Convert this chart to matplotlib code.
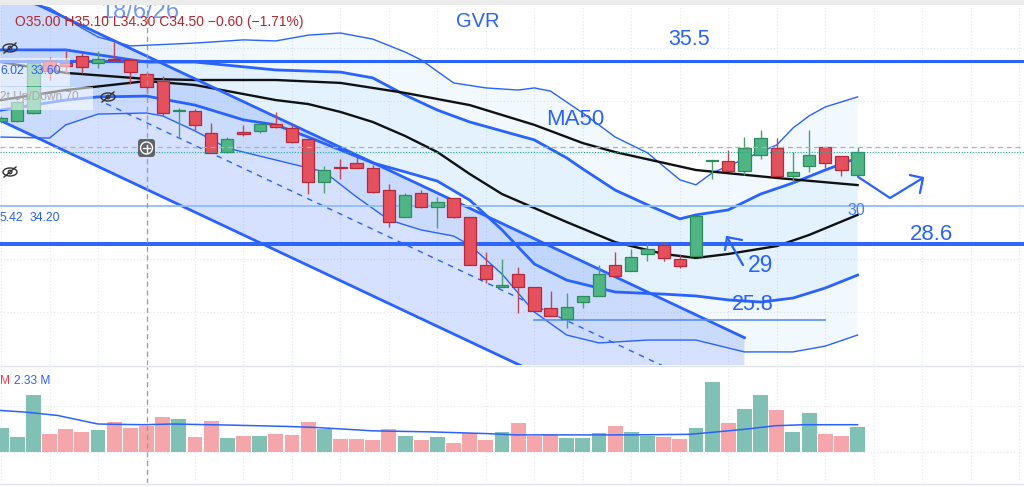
import numpy as np
import matplotlib
matplotlib.use('Agg')
import matplotlib.pyplot as plt
from matplotlib.patches import Rectangle, Ellipse, FancyBboxPatch, Circle

plt.rcParams['font.family'] = ['Liberation Sans', 'DejaVu Sans']

# daily candles, bar index 0..53 (prices)
opens = [33.23, 33.23, 33.53, 35.50, 35.42, 35.69, 35.42, 35.58, 35.54, 35.00,
         34.74, 33.61, 33.61, 32.77, 32.05, 32.81, 32.85, 33.11, 32.96, 32.55,
         30.92, 31.48, 31.64, 31.45, 30.61, 29.59, 30.50, 29.97, 30.31, 29.59,
         27.77, 26.94, 27.43, 26.94, 26.14, 25.73, 26.37, 26.60, 27.77, 27.55,
         28.19, 28.53, 28.00, 28.11, 31.71, 31.71, 31.33, 31.94, 32.20, 31.14,
         31.52, 32.24, 31.90, 31.18]
highs = [33.42, 34.02, 35.46, 35.65, 35.88, 35.80, 35.88, 36.22, 35.61, 35.10,
         34.93, 33.72, 33.68, 33.15, 32.62, 33.08, 33.15, 33.57, 33.11, 32.55,
         31.52, 31.79, 31.90, 31.56, 30.84, 30.50, 30.61, 30.35, 30.31, 29.59,
         28.27, 28.00, 27.70, 26.94, 26.79, 26.71, 26.60, 27.77, 28.27, 28.38,
         28.61, 28.64, 28.19, 29.63, 31.75, 32.13, 32.62, 32.89, 32.58, 32.05,
         32.89, 32.24, 31.90, 32.24]
lows = [33.15, 33.19, 33.49, 34.78, 35.05, 35.05, 35.23, 35.50, 34.63, 34.30,
        33.45, 32.58, 32.89, 32.02, 32.02, 32.66, 32.77, 32.96, 32.39, 30.46,
        30.50, 31.03, 31.45, 30.50, 29.21, 29.59, 29.93, 29.17, 29.55, 27.77,
        27.09, 26.94, 25.95, 26.03, 25.84, 25.39, 26.14, 26.60, 27.36, 27.55,
        27.92, 27.92, 27.66, 28.11, 31.03, 31.33, 31.18, 31.79, 31.14, 30.88,
        31.30, 31.45, 31.14, 31.18]
closes = [33.34, 33.95, 35.42, 35.12, 35.31, 35.27, 35.58, 35.52, 35.08, 34.50,
          33.53, 33.64, 33.08, 32.02, 32.55, 32.73, 33.11, 33.00, 32.43, 30.92,
          31.37, 31.43, 31.45, 30.54, 29.40, 30.42, 29.97, 30.16, 29.59, 27.77,
          27.24, 27.02, 26.94, 26.03, 25.84, 26.18, 26.60, 27.43, 27.36, 28.08,
          28.38, 28.04, 27.73, 29.63, 31.75, 31.33, 32.20, 32.58, 31.14, 31.30,
          31.94, 31.64, 31.37, 32.05]
# volume in millions
volumes = [2.07, 1.33, 4.96, 1.53, 2.01, 1.74, 1.92, 2.60, 2.07, 2.21,
           3.04, 2.89, 1.27, 2.71, 1.21, 1.39, 1.39, 1.59, 1.50, 2.57,
           1.95, 1.15, 1.15, 1.00, 2.01, 1.39, 1.00, 1.27, 0.80, 1.62,
           1.00, 1.74, 2.54, 1.36, 1.53, 1.18, 1.24, 1.65, 2.24, 1.77,
           1.42, 1.33, 1.15, 2.09, 6.05, 2.54, 3.69, 4.96, 3.63, 1.77,
           3.36, 1.53, 1.39, 2.18]
vol_ma_x = [-0.1, 1.5, 3.5, 4.5, 6.0, 8.8, 10.6, 14.1, 17.7, 19.5, 21.2, 23.0,
            26.6, 30.1, 31.9, 35.5, 39.0, 42.6, 44.3, 46.1, 47.9, 49.7, 53.0]
vol_ma_y = [3.60, 3.45, 3.16, 2.86, 2.42, 2.36, 2.42, 2.33, 2.21, 2.12, 1.98, 1.83,
            1.74, 1.59, 1.48, 1.48, 1.48, 1.53, 1.74, 1.98, 2.27, 2.36, 2.36]

# indicator lines sampled from the chart (bar index, price)
ma50_x = [0, 4, 9, 12, 17, 21, 25, 29, 33, 36, 38, 43, 48, 53]
ma50_y = [35.46, 35.05, 34.82, 34.78, 34.78, 34.67, 34.29, 33.83, 33.08, 32.39,
          32.05, 31.37, 31.07, 30.80]
basis_x = [0, 4, 9, 12, 17, 19, 21, 23, 25, 27, 29, 31, 33, 35, 38, 41, 43, 45,
           48, 50, 53]
basis_y = [34.02, 34.40, 34.74, 34.59, 34.02, 33.87, 33.57, 33.19, 32.66, 32.05,
           31.22, 30.46, 29.93, 29.40, 28.64, 28.19, 28.04, 28.19, 28.49, 28.91, 29.67]
bb_up_x = [0, 4, 9, 12, 17, 21, 23, 25, 27, 29, 31, 33, 35, 36, 38, 40, 42, 43,
           45, 47, 49, 51, 53]
bb_up_y = [35.92, 35.92, 35.46, 35.46, 35.16, 35.08, 34.86, 34.21, 33.64, 33.19,
           32.85, 32.51, 31.83, 31.41, 30.61, 30.05, 29.52, 29.67, 29.86, 30.46,
           30.88, 31.37, 31.83]
bb_lo_x = [0, 4, 6, 9, 12, 15, 17, 19, 21, 23, 25, 27, 29, 31, 33, 35, 38, 41,
           43, 45, 47, 49, 51, 53]
bb_lo_y = [33.64, 34.02, 34.14, 34.17, 33.83, 33.27, 33.08, 32.62, 32.13, 31.64,
           31.30, 30.95, 30.23, 29.10, 27.81, 27.20, 26.75, 26.67, 26.60, 26.45,
           26.37, 26.52, 26.90, 27.39]
outer_up_x = [0, 3, 5, 6, 8, 12, 15, 17, 19, 21, 23, 25, 26, 28, 30, 32, 33, 34,
              36, 38, 40, 42, 43, 44, 46, 48, 49, 50, 51, 53]
outer_up_y = [37.92, 37.51, 36.75, 36.41, 36.07, 36.18, 36.30, 36.26, 36.48, 36.56,
              36.33, 35.84, 35.54, 34.67, 34.48, 34.40, 34.48, 34.36, 33.53, 32.62,
              32.02, 31.00, 30.81, 31.26, 31.79, 32.32, 32.96, 33.42, 33.76, 34.14]
outer_lo_x = [0, 3, 4, 6, 9, 10, 12, 14, 17, 20, 22, 24, 26, 28, 29, 31, 33, 35,
              37, 40, 43, 46, 49, 51, 53]
outer_lo_y = [32.62, 32.58, 33.08, 33.49, 33.53, 33.42, 32.85, 32.20, 31.75, 31.30,
              30.35, 29.48, 29.10, 28.87, 28.53, 27.43, 25.99, 25.12, 24.82, 24.93,
              24.93, 24.48, 24.48, 24.70, 25.12]

# drawn parallel channel: two anchors on the upper edge, width in price
chan_x = [6.5, 46.0]
chan_top = [36.41, 25.02]
chan_width = 5.05

# horizontal levels
res_level = 35.5
sup_level = 28.6
mid_level = 30.0
low_level = 25.7
low_level_span = [33.0, 51.0]
cross_bar = 9
cross_price = 32.24

W, H = 1024, 487
x_lim = (-0.068, 63.30)

fig = plt.figure(figsize=(W / 100, H / 100), dpi=100)
fig.patch.set_facecolor('white')


def pane(top, bottom):
    a = fig.add_axes([0, 1 - bottom / H, 1, (bottom - top) / H])
    a.set_xlim(*x_lim)
    a.axis('off')
    return a


ax = pane(5, 365)
ax.set_ylim(23.985, 37.621)
axv = pane(367, 483)
axv.set_ylim(-2.68, 7.35)

grid_c = '#e3e6ec'
for g in range(0, 64, 3):
    ax.axvline(g, color=grid_c, lw=0.8, ls=(0, (1, 2)), zorder=0.5)
    axv.axvline(g, color=grid_c, lw=0.8, ls=(0, (1, 2)), zorder=0.5)
for p in range(24, 38, 2):
    ax.axhline(p, color=grid_c, lw=0.8, ls=(0, (1, 2)), zorder=0.5)
for v in (0, 4):
    axv.axhline(v, color=grid_c, lw=0.8, ls=(0, (1, 2)), zorder=0.5)

# bollinger fills
ax.fill(np.r_[outer_up_x, outer_lo_x[::-1]], np.r_[outer_up_y, outer_lo_y[::-1]],
        color='#2196f3', alpha=0.06, lw=0, zorder=1)
ax.fill(np.r_[bb_up_x, bb_lo_x[::-1]], np.r_[bb_up_y, bb_lo_y[::-1]],
        color='#2196f3', alpha=0.06, lw=0, zorder=1)

# channel
slope = (chan_top[1] - chan_top[0]) / (chan_x[1] - chan_x[0])
cx = np.array([x_lim[0], chan_x[1]])
ctop = chan_top[0] + slope * (cx - chan_x[0])
ax.fill(np.r_[cx, cx[::-1]], np.r_[ctop, (ctop - chan_width)[::-1]],
        color='#2962ff', alpha=0.19, lw=0, zorder=1.2)
ax.plot(cx, ctop, color='#2962ff', lw=2, zorder=2.5)
ax.plot(cx, ctop - chan_width, color='#2962ff', lw=2, zorder=2.5)
ax.plot(chan_x, np.array(chan_top) - chan_width / 2, color='#2962ff', lw=1,
        ls=(0, (4, 4)), zorder=2.5)

# bands and averages
ax.plot(outer_up_x, outer_up_y, color='#2962ff', lw=1, zorder=2)
ax.plot(outer_lo_x, outer_lo_y, color='#2962ff', lw=1, zorder=2)
ax.plot(bb_up_x, bb_up_y, color='#2962ff', lw=2, zorder=2)
ax.plot(bb_lo_x, bb_lo_y, color='#2962ff', lw=2, zorder=2)
ax.plot(basis_x, basis_y, color='#111111', lw=1.7, zorder=2.2)
ax.plot(ma50_x, ma50_y, color='#111111', lw=1.7, zorder=2.2)

# horizontal levels
ax.axhline(res_level, color='#2962ff', lw=2.2, zorder=3)
ax.axhline(sup_level + 0.02, color='#2962ff', lw=1.4, zorder=3)
ax.axhline(sup_level - 0.07, color='#2962ff', lw=1.4, zorder=3)
ax.axhline(mid_level, color='#90bdf7', lw=1.3, zorder=3)
ax.plot(low_level_span, [low_level, low_level], color='#5b8cf7', lw=1.2, zorder=3)

# crosshair + last price line
ax.axvline(cross_bar, color='#9a9a9a', lw=0.9, ls=(0, (4, 3)), zorder=6)
axv.axvline(cross_bar, color='#9a9a9a', lw=0.9, ls=(0, (4, 3)), zorder=6)
ax.axhline(cross_price, color='#b0b0b0', lw=0.9, ls=(0, (4, 3)), zorder=6)
ax.axhline(closes[-1], color='#26a69a', lw=0.8, ls=(0, (1, 1.5)), zorder=6)

# candles
o = np.array(opens); c = np.array(closes)
idx = np.arange(len(o))
up = c >= o
face = np.where(up, '#4fb585', '#e4505e')
edge = np.where(up, '#2e8b5c', '#b5293a')
ax.vlines(idx, lows, highs, colors=np.where(up, '#4f9d73', '#c24452'), lw=1, zorder=4.9)
ax.bar(idx, np.maximum(np.abs(c - o), 0.045), bottom=np.minimum(o, c), width=0.76,
       color=face, edgecolor=edge, linewidth=0.9, zorder=5)

# volume
axv.bar(idx, volumes, width=0.92, color=np.where(up, '#80c0b5', '#f4a6ab'), zorder=2)
axv.plot(vol_ma_x, vol_ma_y, color='#2962ff', lw=1.1, zorder=3)

# drawn annotations
blue = '#2962ff'
ax.text(8.6, 37.12, '18/6/26', color='#7099f2', fontsize=17, ha='center',
        va='baseline', clip_on=True, zorder=7)
ax.text(29.5, 36.98, 'GVR', color=blue, fontsize=14.5, ha='center', va='center', zorder=7)
ax.text(42.6, 36.30, '35.5', color=blue, fontsize=15.5, ha='center', va='center', zorder=7)
ax.text(35.5, 33.27, 'MA50', color=blue, fontsize=16, ha='center', va='center', zorder=7)
ax.text(52.9, 29.82, '30', color='#4a7cf5', fontsize=11.5, ha='center', va='center', zorder=7)
ax.text(57.6, 28.91, '28.6', color=blue, fontsize=16, ha='center', va='center', zorder=7)
ax.text(47.0, 27.77, '29', color=blue, fontsize=16.5, ha='center', va='center', zorder=7)
ax.text(46.5, 26.26, '25.8', color=blue, fontsize=15.5, ha='center', va='center', zorder=7)
ax.plot([45.91, 44.92], [27.77, 28.83], color=blue, lw=1.6, zorder=7, solid_capstyle='round')
ax.plot([45.85, 44.92, 44.80], [28.72, 28.83, 28.34], color=blue, lw=1.6, zorder=7,
        solid_capstyle='round')
ax.plot([53.03, 55.01, 57.05], [31.11, 30.31, 31.07], color=blue, lw=1.6, zorder=7,
        solid_capstyle='round')
ax.plot([56.24, 57.05, 56.86], [31.18, 31.07, 30.50], color=blue, lw=1.6, zorder=7,
        solid_capstyle='round')

# screen chrome in pixel coordinates
ov = fig.add_axes([0, 0, 1, 1])
ov.set_xlim(0, W)
ov.set_ylim(H, 0)
ov.axis('off')
ov.add_patch(Rectangle((0, 0), W, 5, color='#ececec', lw=0))
ov.plot([0, W], [366, 366], color='#e0e3eb', lw=1)
ov.plot([0, W], [484, 484], color='#e0e3eb', lw=1)
ov.add_patch(Rectangle((0, 58), 70, 28, color='white', alpha=0.55, lw=0))
ov.add_patch(Rectangle((0, 87), 93, 23, color='white', alpha=0.55, lw=0))

ov.text(15, 22, 'O35.00 H35.10 L34.30 C34.50 \u22120.60 (\u22121.71%)', color='#b3262f',
        fontsize=10, va='center')
ov.text(0, 71, '6.02', color=blue, fontsize=8.8, va='center')
ov.text(31, 71, '33.60', color=blue, fontsize=8.8, va='center')
ov.text(0, 97, '2t Up/Down 70', color='#a8a8a8', fontsize=8.6, va='center')
ov.text(0, 218, '5.42', color=blue, fontsize=8.8, va='center')
ov.text(30, 218, '34.20', color=blue, fontsize=8.8, va='center')
ov.text(0, 381, 'M', color='#f23645', fontsize=8.6, va='center')
ov.text(14, 381, '2.33 M', color=blue, fontsize=8.6, va='center')

for ex, ey in [(10, 48), (108, 97), (10, 172)]:
    ov.add_patch(Ellipse((ex, ey), 14, 8, fill=False, ec='#333333', lw=1))
    ov.add_patch(Circle((ex, ey), 1.8, fill=False, ec='#333333', lw=0.9))
    ov.plot([ex - 6, ex + 6], [ey + 5, ey - 5], color='#333333', lw=1)

ov.add_patch(FancyBboxPatch((138, 139), 17, 18, boxstyle='round,pad=0,rounding_size=3',
                            fc='#555555', ec='none', alpha=0.9))
ov.add_patch(Circle((146.5, 148), 6, fill=False, ec='white', lw=1))
ov.plot([143, 150], [148, 148], color='white', lw=1)
ov.plot([146.5, 146.5], [144.5, 151.5], color='white', lw=1)

fig.savefig('out.png', dpi=100)
